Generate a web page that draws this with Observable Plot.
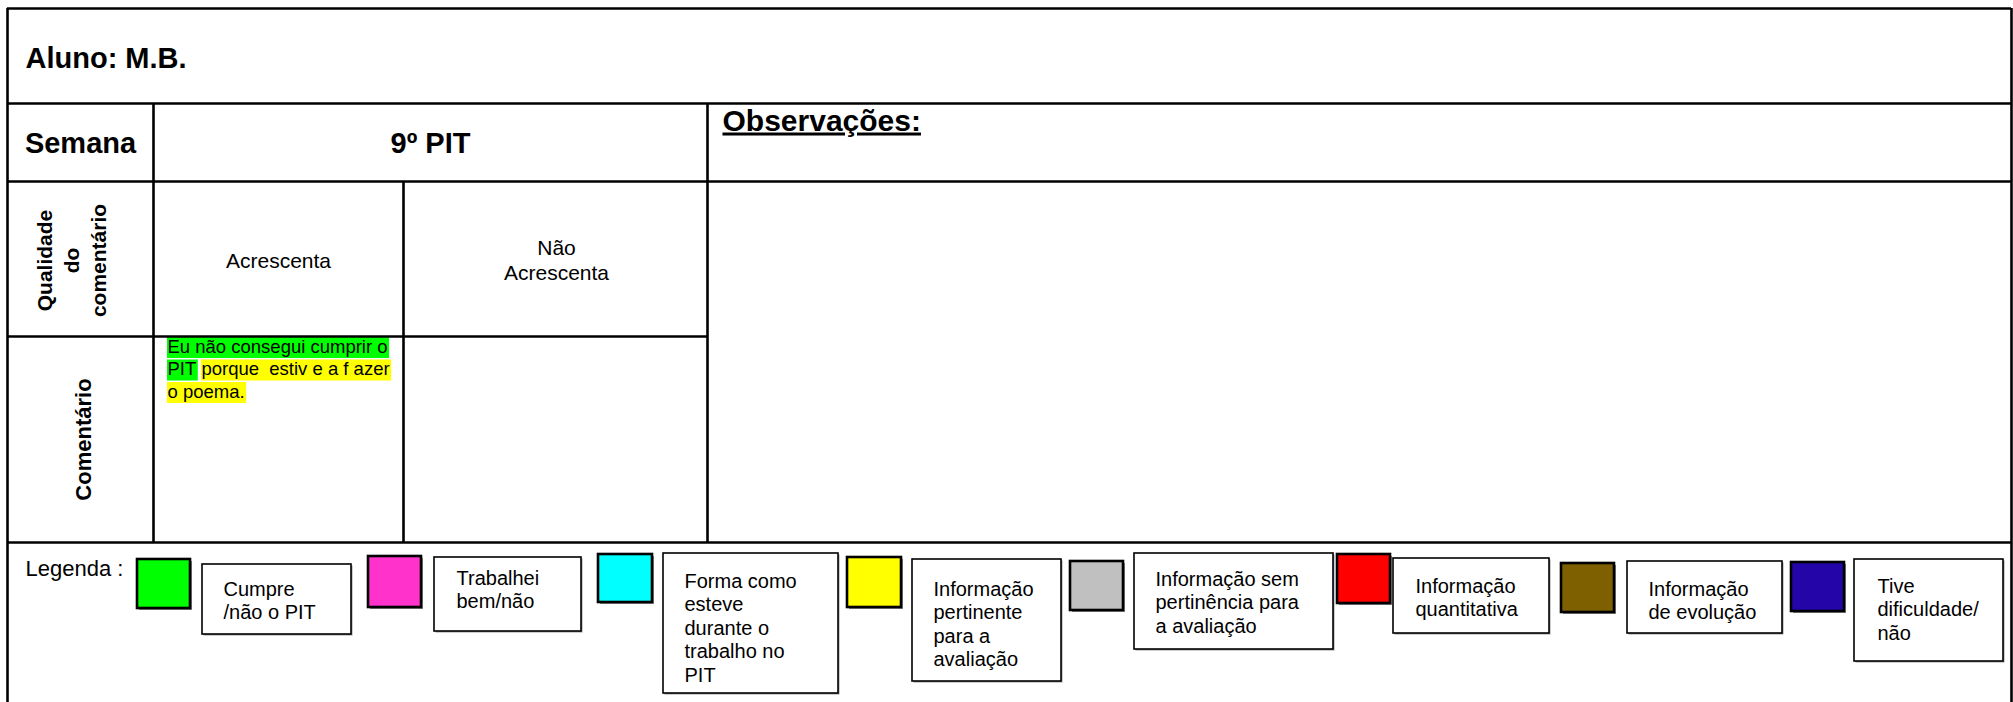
<!DOCTYPE html>
<html><head><meta charset="utf-8">
<script src="https://cdn.jsdelivr.net/npm/d3@7"></script>
<script src="https://cdn.jsdelivr.net/npm/@observablehq/plot@0.6"></script>
<style>html,body{margin:0;padding:0;background:#fff}svg{display:block}</style>
</head><body><div id="chart"></div>
<script>
// ---------- DATA ----------
const studentLabel = "Aluno: M.B.";
const weekHeader = "Semana";
const weekLabel = "9º PIT";
const notesHeader = "Observações:";
const rowLabels = ["Qualidade\ndo\ncomentário", "Comentário"];
const qualityCategories = ["Acrescenta", "Não\nAcrescenta"];
const commentTexts = ["Eu não consegui cumprir o", "PIT", "porque  estiv e a f azer", "o poema."];
const commentLineIndex = [0, 1, 1, 2];
const commentCodes = ["Cumpre /não o PIT", "Cumpre /não o PIT", "Informação pertinente para a avaliação", "Informação pertinente para a avaliação"];
const legendTitle = "Legenda :";
const legendLabels = [
  "Cumpre\n/não o PIT",
  "Trabalhei\nbem/não",
  "Forma como\nesteve\ndurante o\ntrabalho no\nPIT",
  "Informação\npertinente\npara a\navaliação",
  "Informação sem\npertinência para\na avaliação",
  "Informação\nquantitativa",
  "Informação\nde evolução",
  "Tive\ndificuldade/\nnão"
];
const legendColors = ["#00ff00", "#ff33cc", "#00ffff", "#ffff00", "#c0c0c0", "#ff0000", "#7f6000", "#2406a8"];

// ---------- LAYOUT (positions only) ----------
const W = 2013, H = 702;
const FONT = "Liberation Sans, Arial, Helvetica, sans-serif";
const hLines = [
  {y: 8, x1: 7, x2: 2011}, {y: 103, x1: 7, x2: 2011}, {y: 181, x1: 7, x2: 2011},
  {y: 336, x1: 7, x2: 707}, {y: 542, x1: 7, x2: 2011}
];
const vLines = [
  {x: 7, y1: 8, y2: 712}, {x: 2011, y1: 8, y2: 712},
  {x: 153, y1: 103, y2: 542}, {x: 403, y1: 181, y2: 542}, {x: 707, y1: 103, y2: 542}
];
const legendLayout = [
  {swatch: [137, 559, 190, 608], box: [202, 564, 351, 634], text: [223, 593]},
  {swatch: [368, 556, 421, 607], box: [434, 557, 581, 631], text: [456, 582]},
  {swatch: [598, 554, 652, 602], box: [663, 553, 838, 693], text: [684, 585]},
  {swatch: [847, 557, 901, 607], box: [912, 559, 1061, 681], text: [933, 593]},
  {swatch: [1070, 561, 1123, 610], box: [1134, 553, 1333, 649], text: [1155, 583]},
  {swatch: [1337, 554, 1390, 603], box: [1393, 558, 1549, 633], text: [1415, 590]},
  {swatch: [1561, 563, 1614, 612], box: [1627, 561, 1782, 633], text: [1648, 593]},
  {swatch: [1791, 562, 1844, 611], box: [1854, 559, 2003, 661], text: [1877, 590]}
];
const baseTop = (baseline, fs) => baseline - 0.71 * fs;

// ---------- build tables ----------
const legend = legendLabels.map((label, i) => ({label, color: legendColors[i], ...legendLayout[i]}));
const colorOf = Object.fromEntries(legendLabels.map((l, i) => [l.replace(/\n/g, " "), legendColors[i]]));

// comment segments with measured widths
const cfs = 18.5;
const ctx = document.createElement("canvas").getContext("2d");
ctx.font = `${cfs}px "Liberation Sans", Arial, sans-serif`;
const spaceW = ctx.measureText(" ").width;
const commentX0 = 167, commentBase0 = 352, commentLH = 22.5;
const cursor = {};
const segments = commentTexts.map((text, i) => {
  const line = commentLineIndex[i];
  const x = cursor[line] ?? commentX0;
  const w = ctx.measureText(text).width;
  cursor[line] = x + w + spaceW;
  const base = commentBase0 + line * commentLH;
  return {text, x, x2: x + w, base, color: colorOf[commentCodes[i]]};
});

const headerText = [
  {t: weekHeader, x: 80, b: 152},
  {t: weekLabel, x: 430, b: 152}
];
const qualText = [
  {t: qualityCategories[0], x: 278, b: 265},
  {t: qualityCategories[1], x: 556, b: 252}
];

const plot = Plot.plot({
  width: W, height: H, margin: 0,
  x: {domain: [0, W], range: [0, W], axis: null},
  y: {domain: [0, H], range: [0, H], axis: null},
  marks: [
    // comment highlights
    Plot.rect(segments, {x1: "x", x2: d => d.x2 + 2, y1: d => d.base - 15, y2: d => d.base + 6, fill: "color"}),
    Plot.text(segments, {x: "x", y: d => baseTop(d.base, cfs), text: "text", textAnchor: "start", lineAnchor: "top",
      fontSize: cfs, fontFamily: FONT, fill: "#000"}),
    // table grid
    Plot.ruleY(hLines, {y: "y", x1: "x1", x2: "x2", stroke: "#000", strokeWidth: 2.6}),
    Plot.ruleX(vLines, {x: "x", y1: "y1", y2: "y2", stroke: "#000", strokeWidth: 2.6}),
    // titles
    Plot.text([studentLabel], {x: 25, y: baseTop(67, 29), text: d => d, textAnchor: "start", lineAnchor: "top",
      fontSize: 29, fontWeight: "bold", fontFamily: FONT, fill: "#000"}),
    Plot.text(headerText, {x: "x", y: d => baseTop(d.b, 29), text: "t", textAnchor: "middle", lineAnchor: "top",
      fontSize: 29, fontWeight: "bold", fontFamily: FONT, fill: "#000"}),
    Plot.text([notesHeader], {x: 722, y: baseTop(130, 30), text: d => d, textAnchor: "start", lineAnchor: "top",
      fontSize: 30, fontWeight: "bold", fontFamily: FONT, fill: "#000"}),
    // row labels (rotated)
    Plot.text([rowLabels[0]], {x: 70, y: 260, text: d => d, rotate: -90, textAnchor: "middle", lineAnchor: "middle",
      fontSize: 21, lineHeight: 27 / 21, fontWeight: "bold", fontFamily: FONT, fill: "#000"}),
    Plot.text([rowLabels[1]], {x: 83, y: 439, text: d => d, rotate: -90, textAnchor: "middle", lineAnchor: "middle",
      fontSize: 22, fontWeight: "bold", fontFamily: FONT, fill: "#000"}),
    // quality categories
    Plot.text(qualText, {x: "x", y: d => baseTop(d.b, 21), text: "t", textAnchor: "middle", lineAnchor: "top",
      fontSize: 21, lineHeight: 25 / 21, fontFamily: FONT, fill: "#000"}),
    // legend
    Plot.text([legendTitle], {x: 25, y: baseTop(575, 22), text: d => d, textAnchor: "start", lineAnchor: "top",
      fontSize: 22, fontFamily: FONT, fill: "#000"}),
    Plot.rect(legend, {x1: d => d.swatch[0] + 2, y1: d => d.swatch[1] + 2, x2: d => d.swatch[2] + 2, y2: d => d.swatch[3] + 2, fill: "#888"}),
    Plot.rect(legend, {x1: d => d.swatch[0], y1: d => d.swatch[1], x2: d => d.swatch[2], y2: d => d.swatch[3],
      fill: "color", stroke: "#000", strokeWidth: 2.6}),
    Plot.rect(legend, {x1: d => d.box[0] + 1.5, y1: d => d.box[1] + 1.5, x2: d => d.box[2] + 1.5, y2: d => d.box[3] + 1.5, fill: "#999"}),
    Plot.rect(legend, {x1: d => d.box[0], y1: d => d.box[1], x2: d => d.box[2], y2: d => d.box[3],
      fill: "#fff", stroke: "#000", strokeWidth: 1.6}),
    Plot.text(legend, {x: d => d.text[0], y: d => baseTop(d.text[1], 20), text: "label", textAnchor: "start", lineAnchor: "top",
      fontSize: 20, lineHeight: 1.17, fontFamily: FONT, fill: "#000"})
  ]
});
d3.select(plot).selectAll("text").filter(function () { return this.textContent === notesHeader; })
  .style("text-decoration", "underline");
document.getElementById("chart").appendChild(plot);
</script>
</body></html>
